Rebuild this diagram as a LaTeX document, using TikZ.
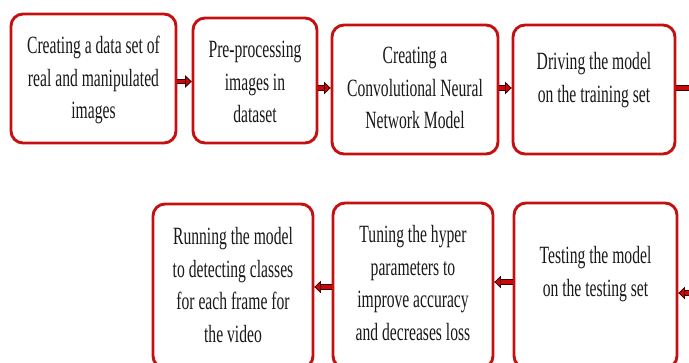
\documentclass[tikz,border=0pt]{standalone}
\usepackage{fontspec}
\setmainfont{Liberation Serif}[FakeStretch=0.63]
\usetikzlibrary{arrows.meta}
\definecolor{boxred}{RGB}{196,16,16}
\definecolor{arrred}{RGB}{200,10,10}
\definecolor{arrdark}{RGB}{60,0,0}
\definecolor{txt}{RGB}{25,25,25}
\begin{document}
\begin{tikzpicture}[x=1pt,y=-1pt,
  box/.style={draw=boxred, line width=2.9pt, rounded corners=12pt, fill=white},
  txtnode/.style={align=center, text=txt, font=\fontsize{24.8}{32.5}\selectfont, inner sep=0pt},
  arr/.style={draw=arrred, line width=3.8pt,
    -{Triangle[length=6.5pt,width=12pt,color=arrdark,fill=arrred,line width=0.7pt]},
    preaction={draw=arrdark, line width=5.8pt, -{Triangle[length=6.5pt,width=12pt]}}}]
\useasboundingbox (0,0) rectangle (689,363);
% boxes
\node[box, minimum width=165pt, minimum height=129pt] (b1) at (93.5,78.5) {};
\node[box, minimum width=124pt, minimum height=125pt] (b2) at (255,80.5) {};
\node[box, minimum width=166pt, minimum height=129pt] (b3) at (415,89.5) {};
\node[box, minimum width=162pt, minimum height=129pt] (b4) at (594,89.5) {};
\node[box, minimum width=160pt, minimum height=164pt] (b5) at (233,286) {};
\node[box, minimum width=160pt, minimum height=165pt] (b6) at (413,285.5) {};
\node[box, minimum width=163pt, minimum height=165pt] (b7) at (595.5,285.5) {};
% texts
\node[txtnode] (t1) at (93.5,80) {Creating a data set of\\real and manipulated\\images};
\node[txtnode] (t2) at (255,82) {Pre-processing\\images in\\dataset};
\node[txtnode] (t3) at (415,88) {Creating a\\Convolutional Neural\\Network Model};
\node[txtnode] (t4) at (594,80) {Driving the model\\on the training set};
\node[txtnode] (t5) at (233,285) {Running the model\\to detecting classes\\for each frame for\\the video};
\node[txtnode] (t6) at (413,283) {Tuning the hyper\\parameters to\\improve accuracy\\and decreases loss};
\node[txtnode] (t7) at (595.5,274) {Testing the model\\on the testing set};
% outside coordinates
\coordinate (outR) at (700,88);
\coordinate (inR) at (700,293);
% arrows
\draw[arr] ([yshift=-3pt]b1.east) -- ([yshift=-3pt]b1.east -| b2.west);
\draw[arr] ([yshift=-7.5pt]b2.east) -- ([yshift=-7.5pt]b2.east -| b3.west);
\draw[arr] ([yshift=1.5pt]b3.east) -- ([yshift=1.5pt]b3.east -| b4.west);
\draw[arr] ([yshift=1.5pt]b4.east) -- (outR);
\draw[arr] (inR) -- ([yshift=-7.5pt]b7.east);
\draw[arr] ([yshift=3.5pt]b7.west) -- ([yshift=3.5pt]b7.west -| b6.east);
\draw[arr] ([yshift=-1.5pt]b6.west) -- ([yshift=-1.5pt]b6.west -| b5.east);
\end{tikzpicture}
\end{document}
